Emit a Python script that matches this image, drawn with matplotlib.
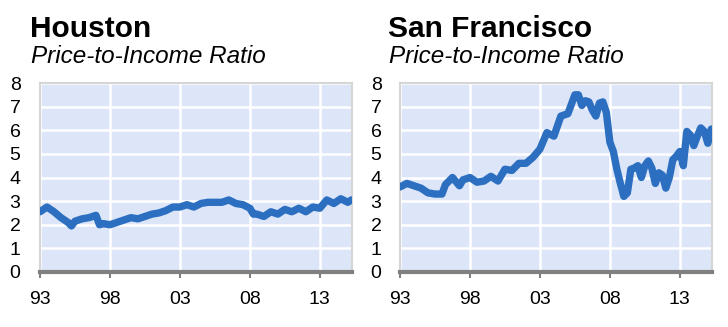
import matplotlib.pyplot as plt

plt.rcParams['font.family'] = ['Liberation Sans', 'DejaVu Sans']

# Houston price-to-income ratio (year)
hou_years = [1993.0, 1993.5, 1994.0, 1994.5, 1995.0, 1995.25, 1995.5, 1996.0, 1996.5,
             1997.0, 1997.25, 1997.5, 1998.0, 1998.5, 1999.0, 1999.5, 2000.0, 2000.5,
             2001.0, 2001.5, 2002.0, 2002.5, 2003.0, 2003.5, 2004.0, 2004.5, 2005.0,
             2005.5, 2006.0, 2006.5, 2007.0, 2007.5, 2008.0, 2008.25, 2008.5, 2009.0,
             2009.5, 2010.0, 2010.5, 2011.0, 2011.5, 2012.0, 2012.5, 2013.0, 2013.5,
             2014.0, 2014.5, 2015.0, 2015.25]
hou_ratio = [2.55, 2.75, 2.55, 2.3, 2.1, 1.95, 2.15, 2.25, 2.3,
             2.4, 2.0, 2.05, 2.0, 2.1, 2.2, 2.3, 2.25, 2.35,
             2.45, 2.5, 2.6, 2.75, 2.75, 2.85, 2.75, 2.9, 2.95,
             2.95, 2.95, 3.05, 2.9, 2.85, 2.7, 2.45, 2.45, 2.35,
             2.55, 2.45, 2.65, 2.55, 2.7, 2.55, 2.75, 2.7, 3.05,
             2.9, 3.1, 2.95, 3.05]

# San Francisco price-to-income ratio
sf_years = [1993.0, 1993.5, 1994.0, 1994.5, 1995.0, 1995.5, 1996.0, 1996.25, 1996.75,
            1997.25, 1997.5, 1998.0, 1998.5, 1999.0, 1999.5, 2000.0, 2000.5, 2001.0,
            2001.5, 2002.0, 2002.5, 2003.0, 2003.5, 2004.0, 2004.5, 2005.0, 2005.5,
            2005.75, 2006.0, 2006.25, 2006.5, 2006.75, 2007.0, 2007.25, 2007.5, 2007.75,
            2008.0, 2008.25, 2008.5, 2008.75, 2009.0, 2009.25, 2009.5, 2009.75, 2010.0,
            2010.25, 2010.5, 2010.75, 2011.0, 2011.25, 2011.5, 2011.75, 2012.0, 2012.25,
            2012.5, 2012.75, 2013.0, 2013.25, 2013.5, 2013.75, 2014.0, 2014.25, 2014.5,
            2014.75, 2015.0, 2015.25]
sf_ratio = [3.6, 3.75, 3.65, 3.55, 3.35, 3.3, 3.3, 3.7, 4.0,
            3.65, 3.9, 4.0, 3.8, 3.85, 4.05, 3.85, 4.35, 4.3,
            4.6, 4.6, 4.85, 5.2, 5.9, 5.75, 6.6, 6.7, 7.5,
            7.5, 7.05, 7.25, 7.2, 6.85, 6.6, 7.15, 7.2, 6.75,
            5.5, 5.1, 4.35, 3.75, 3.2, 3.35, 4.35, 4.4, 4.5,
            4.0, 4.5, 4.7, 4.4, 3.75, 4.2, 4.1, 3.55, 4.0,
            4.75, 4.9, 5.1, 4.5, 5.95, 5.8, 5.35, 5.75, 6.1,
            5.95, 5.45, 6.05]

year_ticks = [1993, 1998, 2003, 2008, 2013]
year_labels = ["93", "98", "03", "08", "13"]

bg = "#dce6f8"
line_color = "#2c6fc1"

fig = plt.figure(figsize=(7.28, 3.27), dpi=100)


def draw_panel(ax, years, values, title, tx, label_pad):
    ax.set_facecolor(bg)
    ax.plot(years, values, color=line_color, lw=5.3, solid_capstyle="round",
            solid_joinstyle="round", zorder=3)
    ax.set_xlim(1993, 2015.3)
    ax.set_ylim(0, 8)
    ax.set_yticks(range(9))
    ax.set_xticks(year_ticks)
    ax.set_xticklabels(year_labels)
    ax.grid(True, color="white", lw=1.8, zorder=1)
    ax.set_axisbelow(True)
    for side in ["top", "left", "right"]:
        ax.spines[side].set_color("#d6d6d6")
        ax.spines[side].set_linewidth(1.5)
    ax.spines["bottom"].set_color("#808080")
    ax.spines["bottom"].set_linewidth(3)
    ax.spines["bottom"].set_zorder(4)
    ax.tick_params(axis="y", length=0, pad=label_pad, labelsize=14)
    ax.tick_params(axis="x", length=4, width=1.5, color="#808080",
                   pad=10, labelsize=14)
    fig.text(tx, 1 - 37 / 327, title, fontsize=21.5, fontweight="bold")
    fig.text(tx + 0.001, 1 - 63 / 327, "Price-to-Income Ratio",
             fontsize=17.5, style="italic")


ax1 = fig.add_axes([40 / 728, 55 / 327, 312 / 728, 189 / 327])
draw_panel(ax1, hou_years, hou_ratio, "Houston", 30 / 728, 14)

ax2 = fig.add_axes([400 / 728, 55 / 327, 312 / 728, 189 / 327])
draw_panel(ax2, sf_years, sf_ratio, "San Francisco", 388 / 728, 13.3)

fig.savefig("out.png", dpi=100)
